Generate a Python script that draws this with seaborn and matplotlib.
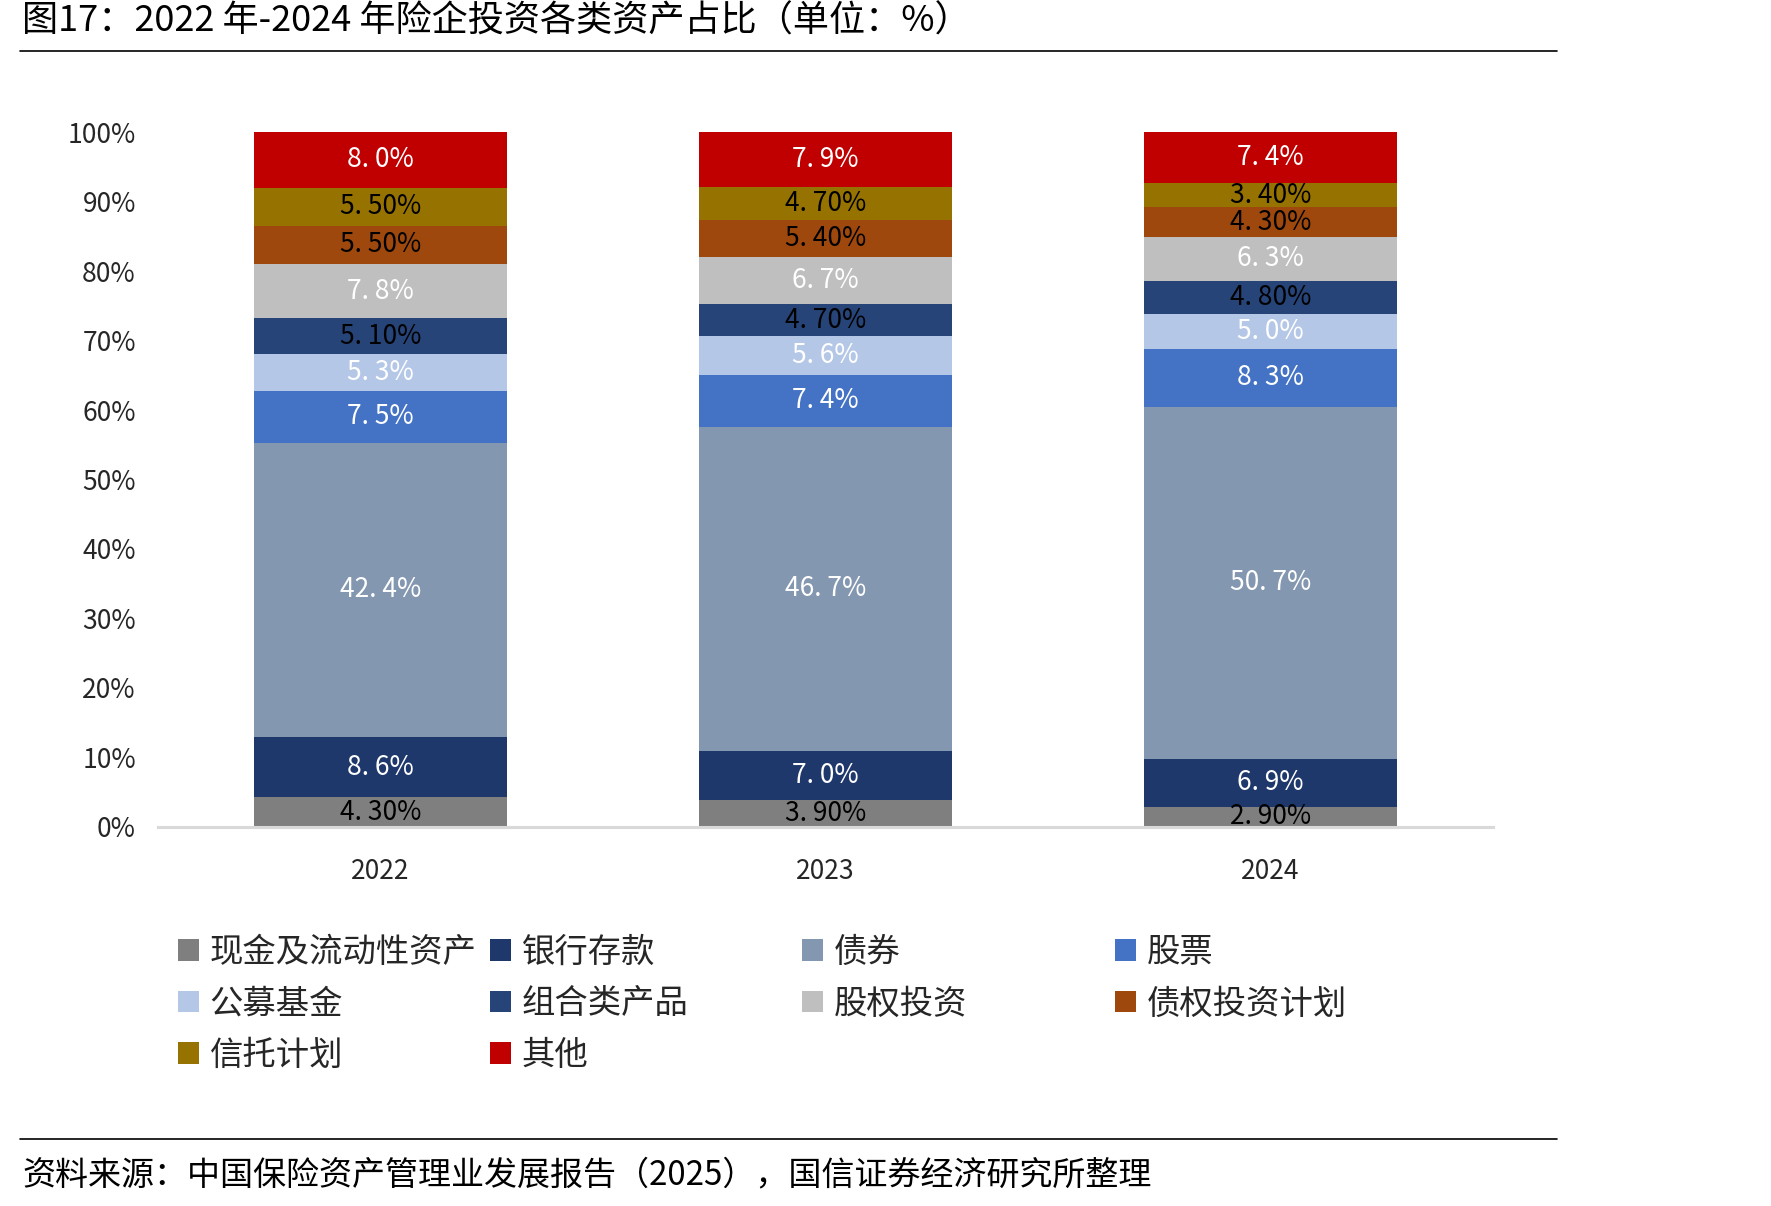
import numpy as np
import pandas as pd
import seaborn as sns
import matplotlib.pyplot as plt
from matplotlib.patches import Patch
from matplotlib.lines import Line2D

# data (percent of total)
years = ["2022", "2023", "2024"]
categories = ["现金及流动性资产", "银行存款", "债券", "股票", "公募基金",
              "组合类产品", "股权投资", "债权投资计划", "信托计划", "其他"]
cash = [4.3, 3.9, 2.9]
deposits = [8.6, 7.0, 6.9]
bonds = [42.4, 46.7, 50.7]
stocks = [7.5, 7.4, 8.3]
funds = [5.3, 5.6, 5.0]
portfolio = [5.1, 4.7, 4.8]
equity = [7.8, 6.7, 6.3]
debt_plans = [5.5, 5.4, 4.3]
trust = [5.5, 4.7, 3.4]
other = [8.0, 7.9, 7.4]

# label strings as printed on the bars
cash_lbl = ["4. 30%", "3. 90%", "2. 90%"]
deposits_lbl = ["8. 6%", "7. 0%", "6. 9%"]
bonds_lbl = ["42. 4%", "46. 7%", "50. 7%"]
stocks_lbl = ["7. 5%", "7. 4%", "8. 3%"]
funds_lbl = ["5. 3%", "5. 6%", "5. 0%"]
portfolio_lbl = ["5. 10%", "4. 70%", "4. 80%"]
equity_lbl = ["7. 8%", "6. 7%", "6. 3%"]
debt_plans_lbl = ["5. 50%", "5. 40%", "4. 30%"]
trust_lbl = ["5. 50%", "4. 70%", "3. 40%"]
other_lbl = ["8. 0%", "7. 9%", "7. 4%"]

colors = ["#7f7f7f", "#1f386b", "#8497b0", "#4472c4", "#b4c7e7",
          "#264478", "#bfbfbf", "#9e480e", "#967300", "#c00000"]
label_colors = ["black", "white", "white", "white", "white",
                "black", "white", "black", "black", "white"]

values = [cash, deposits, bonds, stocks, funds, portfolio, equity,
          debt_plans, trust, other]
labels = [cash_lbl, deposits_lbl, bonds_lbl, stocks_lbl, funds_lbl,
          portfolio_lbl, equity_lbl, debt_plans_lbl, trust_lbl, other_lbl]

df = pd.DataFrame(np.array(values).T, index=years, columns=categories)
cum = df.cumsum(axis=1)

sns.set_theme(style="white")
plt.rcParams["font.family"] = ["Noto Sans CJK SC", "DejaVu Sans"]

fig = plt.figure(figsize=(17.71, 12.06), dpi=100)
ax = fig.add_axes([0.0892, 0.3143, 0.7538, 0.5762])

# stacked bars: draw cumulative totals from the top layer down
for i in reversed(range(len(categories))):
    sns.barplot(x=years, y=cum.iloc[:, i].values, color=colors[i],
                width=0.57, saturation=1, linewidth=0, ax=ax)

# segment labels at the middle of each segment
for i, cat in enumerate(categories):
    mids = cum[cat].values - df[cat].values / 2
    for j in range(len(years)):
        ax.text(j, mids[j], labels[i][j], ha="center", va="center",
                fontsize=19, color=label_colors[i])

ax.set_xlim(-0.5, 2.5)
ax.set_ylim(0, 100)
ax.set_yticks(np.arange(0, 101, 10))
ax.set_yticklabels([f"{t}%" for t in range(0, 101, 10)])
ax.tick_params(axis="y", length=0, pad=16, labelsize=19)
ax.tick_params(axis="x", length=0, pad=22, labelsize=19)
ax.set_xlabel("")
ax.set_ylabel("")
for s in ["top", "right", "left"]:
    ax.spines[s].set_visible(False)
ax.spines["bottom"].set_color("#d9d9d9")
ax.spines["bottom"].set_linewidth(2.2)

# legend laid out in fixed-width columns like the original
handles = [Patch(facecolor=c, edgecolor="none") for c in colors]
col_x = [0.1005, 0.2767, 0.4529, 0.6296]
for k, x in enumerate(col_x):
    idx = list(range(k, len(categories), 4))
    fig.legend([handles[i] for i in idx], [categories[i] for i in idx],
               loc="upper left", bbox_to_anchor=(x, 0.225), frameon=False,
               fontsize=24, handlelength=0.62, handleheight=0.62,
               handletextpad=0.33, labelspacing=0.5, borderpad=0,
               borderaxespad=0)

# title, source and the rules around them
fig.text(0.0124, 0.982, "图17：2022 年-2024 年险企投资各类资产占比（单位：%）",
         fontsize=26, ha="left", va="center", color="black")
fig.add_artist(Line2D([0.0113, 0.879], [0.9577, 0.9577], color="black", lw=1.2))
fig.add_artist(Line2D([0.0113, 0.879], [0.0556, 0.0556], color="black", lw=1.2))
fig.text(0.0124, 0.026, "资料来源：中国保险资产管理业发展报告（2025），国信证券经济研究所整理",
         fontsize=23.8, ha="left", va="center", color="black")

fig.savefig("out.png", dpi=100)
